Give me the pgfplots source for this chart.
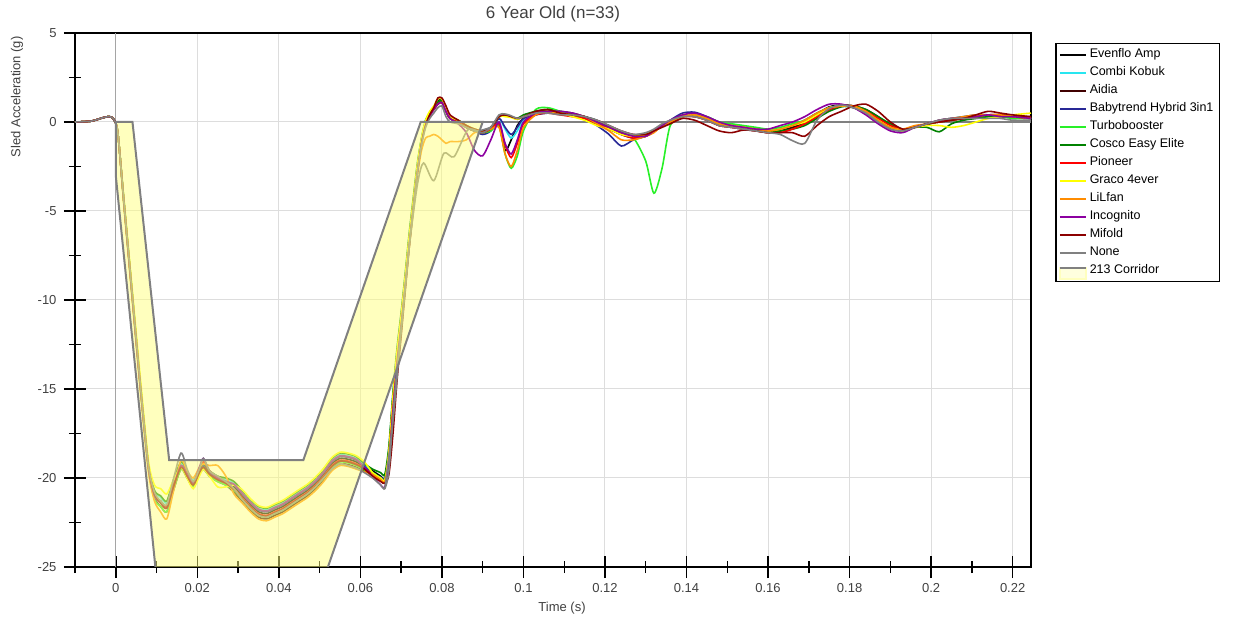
\documentclass[border=0pt]{standalone}
\usepackage{fontspec}
\setmainfont{Liberation Sans}
\usepackage{pgfplots}
\usepackage{pgfplotstable}
\pgfplotsset{compat=1.18}

\definecolor{cEv}{RGB}{0,0,0}
\definecolor{cCo}{RGB}{40,230,240}
\definecolor{cAi}{RGB}{64,0,0}
\definecolor{cBt}{RGB}{40,40,150}
\definecolor{cTu}{RGB}{40,240,40}
\definecolor{cCe}{RGB}{0,130,0}
\definecolor{cPi}{RGB}{255,0,0}
\definecolor{cGr}{RGB}{255,255,0}
\definecolor{cLi}{RGB}{255,140,0}
\definecolor{cIn}{RGB}{140,0,160}
\definecolor{cMi}{RGB}{140,0,0}
\definecolor{cNo}{RGB}{128,128,128}
\definecolor{corrfill}{RGB}{255,255,125}
\definecolor{corrgray}{RGB}{128,128,128}
\definecolor{gridgray}{RGB}{221,221,221}
\definecolor{labelgray}{RGB}{64,64,64}

% t, then one column per seat
\pgfplotstableread{
t ev co ai bt tu ce pi gr li inc mi no
-0.010 0 0 0 0 0 0 0 0 0 0 0 0
-0.006 0.05 0.05 0.05 0.05 0.05 0.05 0.05 0.05 0.05 0.05 0.05 0.05
-0.003 0.25 0.25 0.25 0.25 0.25 0.25 0.25 0.25 0.25 0.25 0.25 0.25
-0.0015 0.3 0.3 0.3 0.3 0.3 0.3 0.3 0.3 0.3 0.3 0.3 0.3
-0.0005 0.15 0.15 0.15 0.15 0.15 0.15 0.15 0.15 0.15 0.15 0.15 0.15
0.0005 -0.6 -0.6 -0.6 -0.6 -0.6 -0.6 -0.6 -0.6 -0.6 -0.6 -0.6 -0.6
0.002 -4.5 -4.4 -4.6 -4.5 -4.6 -4.4 -4.5 -4.3 -4.7 -4.5 -4.5 -4.5
0.004 -9.6 -9.5 -9.7 -9.6 -9.8 -9.5 -9.6 -9.3 -9.9 -9.7 -9.6 -9.6
0.006 -14.7 -14.6 -14.8 -14.7 -14.9 -14.6 -14.7 -14.3 -15.0 -14.8 -14.7 -14.7
0.008 -19.3 -19.2 -19.4 -19.3 -19.5 -19.2 -19.3 -19.0 -19.6 -19.4 -19.3 -19.3
0.0095 -20.9 -20.7 -21.1 -20.9 -21.2 -20.7 -20.9 -20.4 -21.3 -21.0 -20.9 -20.8
0.011 -21.3 -21.1 -21.6 -21.3 -21.6 -21.0 -21.3 -20.6 -21.9 -21.4 -21.4 -21.3
0.0125 -21.6 -21.4 -21.9 -21.6 -21.9 -21.3 -21.6 -20.9 -22.3 -21.7 -21.7 -21.5
0.014 -20.5 -20.3 -20.8 -20.5 -20.8 -20.2 -20.5 -20.2 -20.9 -20.6 -20.6 -20.2
0.016 -19.3 -19.2 -19.5 -19.3 -19.5 -19.1 -19.3 -19.4 -19.0 -19.3 -19.4 -18.6
0.0175 -19.8 -19.7 -20.0 -19.8 -20.0 -19.6 -19.8 -20.0 -19.6 -19.8 -19.9 -19.5
0.019 -20.3 -20.1 -20.5 -20.3 -20.5 -20.3 -20.3 -20.6 -20.0 -20.3 -20.4 -20.2
0.0205 -19.6 -19.5 -19.8 -19.6 -19.8 -19.5 -19.5 -19.9 -19.4 -19.4 -19.7 -19.5
0.0215 -19.3 -19.2 -19.5 -19.3 -19.5 -19.2 -19.1 -19.5 -19.2 -18.9 -19.4 -18.9
0.023 -19.7 -19.6 -19.9 -19.7 -19.9 -19.6 -19.6 -19.9 -19.3 -19.6 -19.8 -19.6
0.025 -20.0 -19.9 -20.2 -20.0 -20.2 -19.9 -20.0 -20.5 -19.3 -20.0 -20.1 -19.9
0.027 -20.2 -20.1 -20.4 -20.2 -20.4 -20.0 -20.2 -20.5 -19.9 -20.2 -20.3 -20.2
0.029 -20.5 -20.3 -20.8 -20.4 -20.7 -20.2 -20.6 -20.4 -20.9 -20.35 -20.65 -20.6
0.031 -21.0 -20.8 -21.3 -20.9 -21.2 -20.7 -21.1 -20.65 -21.4 -20.85 -21.15 -21.2
0.033 -21.5 -21.3 -21.8 -21.4 -21.7 -21.2 -21.6 -21.15 -21.9 -21.35 -21.65 -21.7
0.035 -21.9 -21.7 -22.2 -21.8 -22.1 -21.6 -22.0 -21.55 -22.3 -21.75 -22.05 -22.1
0.037 -22.0 -21.8 -22.3 -21.9 -22.2 -21.7 -22.1 -21.65 -22.4 -21.85 -22.15 -22.2
0.039 -21.8 -21.6 -22.1 -21.7 -22.0 -21.5 -21.9 -21.45 -22.2 -21.65 -21.95 -22.0
0.041 -21.6 -21.4 -21.9 -21.5 -21.8 -21.3 -21.7 -21.25 -22.0 -21.45 -21.75 -21.8
0.043 -21.3 -21.1 -21.6 -21.2 -21.5 -21.0 -21.4 -20.95 -21.7 -21.15 -21.45 -21.5
0.045 -21.0 -20.8 -21.3 -20.9 -21.2 -20.7 -21.1 -20.65 -21.4 -20.85 -21.15 -21.2
0.047 -20.7 -20.5 -21.0 -20.6 -20.9 -20.4 -20.8 -20.35 -21.1 -20.55 -20.85 -20.9
0.049 -20.3 -20.1 -20.6 -20.2 -20.5 -20.0 -20.4 -19.95 -20.7 -20.15 -20.45 -20.5
0.051 -19.8 -19.6 -20.1 -19.7 -20.0 -19.5 -19.9 -19.45 -20.2 -19.65 -19.95 -20.0
0.053 -19.2 -19.0 -19.5 -19.1 -19.4 -18.9 -19.3 -18.85 -19.6 -19.05 -19.35 -19.5
0.055 -18.9 -18.7 -19.2 -18.8 -19.1 -18.6 -19.0 -18.55 -19.3 -18.75 -19.05 -19.2
0.057 -18.95 -18.75 -19.25 -18.85 -19.15 -18.65 -19.05 -18.6 -19.35 -18.8 -19.1 -19.3
0.059 -19.1 -18.9 -19.4 -19.0 -19.3 -18.8 -19.2 -18.75 -19.5 -18.95 -19.25 -19.45
0.061 -19.4 -19.25 -19.6 -19.35 -19.55 -19.2 -19.45 -19.1 -19.65 -19.4 -19.5 -19.7
0.063 -19.6 -19.7 -19.8 -19.8 -19.7 -19.5 -19.8 -19.7 -19.8 -19.9 -19.9 -20.0
0.065 -19.9 -20.0 -20.1 -19.95 -20.0 -19.7 -20.1 -20.0 -20.1 -20.4 -20.2 -20.4
0.066 -20.0 -20.0 -20.2 -20.0 -20.1 -19.8 -20.2 -20.1 -20.2 -20.5 -20.3 -20.6
0.067 -18.5 -18.4 -18.8 -18.5 -18.6 -18.2 -18.7 -18.5 -18.8 -19.2 -19.8 -19.6
0.068 -15.5 -15.3 -15.8 -15.5 -15.6 -15.2 -15.7 -15.4 -15.9 -16.2 -17.5 -16.5
0.069 -13.0 -12.8 -13.3 -13.0 -13.1 -12.7 -13.2 -12.9 -13.4 -13.6 -14.5 -13.8
0.070 -11.0 -10.8 -11.2 -11.0 -11.1 -10.7 -11.1 -10.9 -11.4 -11.5 -12.0 -11.6
0.071 -8.8 -8.6 -9.0 -8.8 -8.9 -8.5 -8.9 -8.7 -9.3 -9.2 -9.5 -9.3
0.072 -6.5 -6.3 -6.7 -6.5 -6.6 -6.2 -6.6 -6.4 -7.0 -6.9 -7.0 -6.9
0.073 -4.5 -4.3 -4.7 -4.5 -4.6 -4.2 -4.6 -4.4 -5.0 -4.8 -4.8 -4.8
0.074 -2.5 -2.3 -2.7 -2.5 -2.6 -2.3 -2.6 -2.4 -3.0 -2.8 -2.8 -2.8
0.075 -1.0 -0.9 -1.1 -1.0 -1.1 -0.9 -1.1 -0.9 -1.6 -1.2 -1.2 -1.3
0.076 0.0 0.1 -0.1 0.0 0.0 0.1 -0.1 0.1 -0.9 -0.2 -0.2 -0.3
0.077 0.5 0.5 0.4 0.5 0.5 0.5 0.4 0.6 -0.8 0.3 0.4 0.2
0.078 0.8 0.8 0.7 0.8 0.8 0.8 0.7 0.9 -0.7 0.7 0.8 0.5
0.079 1.2 1.0 1.0 1.1 1.1 1.1 1.0 1.3 -0.8 1.0 1.35 0.8
0.080 1.2 1.1 1.1 1.2 1.2 1.2 1.1 1.3 -1.0 1.1 1.35 0.9
0.081 0.6 0.6 0.6 0.7 0.7 0.7 0.6 0.8 -1.2 0.6 0.9 0.3
0.082 0.2 0.2 0.2 0.3 0.3 0.3 0.2 0.3 -1.1 0.2 0.4 0.0
0.084 0.0 0.0 0.0 0.1 0.0 0.1 0.0 0.1 -1.1 -0.1 0.1 -0.1
0.086 -0.3 -0.3 -0.3 -0.2 -0.3 -0.2 -0.3 -0.2 -1.0 -0.6 -0.2 -0.3
0.088 -0.5 -0.5 -0.5 -0.5 -0.5 -0.4 -0.5 -0.4 -0.6 -1.6 -0.4 -0.5
0.090 -0.6 -0.6 -0.6 -0.7 -0.6 -0.5 -0.6 -0.5 -0.5 -1.9 -0.5 -0.6
0.092 -0.4 -0.3 -0.4 -0.5 -0.5 -0.3 -0.4 -0.3 -0.4 -1.0 -0.3 -0.3
0.094 -0.2 0.2 0.3 0.2 -0.2 0.3 -0.1 0.3 -0.3 0.0 0.3 0.4
0.0955 -1.6 -0.4 0.35 -0.3 -1.8 0.35 -1.3 0.3 -1.8 -1.2 0.4 0.45
0.097 -1.0 -0.9 0.3 -0.7 -2.6 0.3 -2.0 0.25 -2.5 -1.8 0.3 0.35
0.0985 -0.2 -0.5 0.15 -0.3 -1.9 0.2 -1.2 0.15 -1.6 -1.0 0.2 0.2
0.100 0.2 0.1 0.3 0.2 -0.5 0.4 -0.1 0.3 -0.3 0.0 0.3 0.3
0.103 0.5 0.5 0.5 0.4 0.7 0.6 0.4 0.5 0.4 0.5 0.6 0.5
0.106 0.6 0.6 0.7 0.5 0.8 0.7 0.5 0.6 0.6 0.6 0.7 0.5
0.109 0.5 0.5 0.6 0.5 0.6 0.5 0.4 0.5 0.5 0.6 0.5 0.4
0.112 0.4 0.4 0.5 0.4 0.4 0.4 0.3 0.3 0.4 0.5 0.4 0.4
0.115 0.3 0.3 0.3 0.2 0.3 0.3 0.2 0.1 0.3 0.3 0.3 0.3
0.118 0.0 0.1 0.0 -0.2 0.0 0.0 -0.1 -0.2 -0.1 0.0 0.1 0.1
0.121 -0.35 -0.3 -0.3 -0.7 -0.4 -0.3 -0.4 -0.4 -0.5 -0.3 -0.2 -0.2
0.124 -0.7 -0.6 -0.6 -1.35 -0.7 -0.6 -0.7 -0.7 -1.0 -0.6 -0.5 -0.5
0.127 -0.9 -0.8 -0.8 -1.0 -0.9 -0.8 -0.9 -0.8 -1.0 -0.8 -0.7 -0.7
0.130 -0.8 -0.8 -0.7 -0.8 -2.2 -0.7 -0.8 -0.7 -0.8 -0.8 -0.7 -0.6
0.132 -0.55 -0.5 -0.5 -0.5 -4.0 -0.5 -0.5 -0.5 -0.6 -0.5 -0.5 -0.4
0.134 -0.2 -0.2 -0.2 -0.2 -2.6 -0.2 -0.2 -0.2 -0.2 -0.2 -0.3 -0.1
0.136 0.0 0.0 0.0 0.1 -0.2 0.0 0.0 0.0 0.0 0.1 -0.1 0.1
0.139 0.35 0.3 0.3 0.5 0.3 0.3 0.3 0.4 0.3 0.4 0.2 0.3
0.142 0.4 0.35 0.3 0.55 0.4 0.35 0.3 0.4 0.4 0.5 0.1 0.3
0.145 0.2 0.2 0.1 0.3 0.3 0.2 0.1 0.2 0.2 0.3 -0.2 0.1
0.148 -0.1 -0.1 -0.2 0.0 0.0 -0.1 -0.2 -0.1 -0.1 0.0 -0.5 -0.2
0.151 -0.25 -0.2 -0.3 -0.2 -0.1 -0.2 -0.3 -0.2 -0.2 -0.2 -0.6 -0.3
0.154 -0.35 -0.3 -0.4 -0.3 -0.2 -0.3 -0.4 -0.3 -0.3 -0.3 -0.45 -0.4
0.157 -0.45 -0.4 -0.5 -0.4 -0.3 -0.4 -0.5 -0.4 -0.4 -0.4 -0.5 -0.5
0.160 -0.55 -0.5 -0.6 -0.5 -0.4 -0.5 -0.6 -0.5 -0.5 -0.4 -0.6 -0.6
0.163 -0.5 -0.4 -0.5 -0.4 -0.3 -0.5 -0.6 -0.4 -0.4 -0.2 -0.6 -0.7
0.166 -0.3 -0.2 -0.3 -0.2 -0.1 -0.4 -0.4 -0.2 -0.2 0.0 -0.6 -1.05
0.169 0.0 0.1 -0.1 0.1 0.1 -0.2 -0.1 0.0 0.1 0.3 -0.8 -1.2
0.172 0.45 0.5 0.3 0.5 0.5 0.2 0.3 0.4 0.5 0.7 -0.2 0.1
0.175 0.85 0.8 0.7 0.8 0.8 0.6 0.7 0.8 0.8 1.0 0.3 0.75
0.178 0.95 0.9 0.9 0.9 0.9 0.85 0.9 0.9 0.9 1.0 0.6 0.95
0.181 0.9 0.85 0.9 0.8 0.8 0.9 0.85 0.85 0.9 0.8 0.9 0.8
0.184 0.6 0.5 0.7 0.5 0.5 0.7 0.6 0.5 0.6 0.4 1.0 0.5
0.187 0.1 0.1 0.3 0.0 0.0 0.3 0.2 0.1 0.1 -0.1 0.6 0.0
0.190 -0.35 -0.3 -0.2 -0.4 -0.3 -0.1 -0.2 -0.3 -0.3 -0.5 0.0 -0.4
0.193 -0.5 -0.5 -0.4 -0.5 -0.5 -0.4 -0.4 -0.5 -0.4 -0.6 -0.4 -0.5
0.196 -0.25 -0.3 -0.3 -0.3 -0.3 -0.3 -0.3 -0.3 -0.2 -0.3 -0.3 -0.3
0.199 -0.15 -0.1 -0.1 -0.1 -0.1 -0.3 -0.1 -0.2 -0.1 -0.1 -0.1 -0.1
0.202 0.05 0.1 0.0 0.1 0.0 -0.55 0.0 -0.2 0.1 0.1 0.0 0.1
0.205 0.15 0.2 0.1 0.2 0.1 -0.1 0.1 -0.3 0.2 0.2 0.1 0.2
0.208 0.2 0.3 0.2 0.3 0.2 0.1 0.2 -0.2 0.3 0.2 0.2 0.2
0.211 0.3 0.3 0.3 0.4 0.3 0.2 0.3 0.0 0.4 0.3 0.4 0.2
0.214 0.35 0.3 0.4 0.4 0.3 0.3 0.4 0.2 0.4 0.4 0.6 0.2
0.217 0.4 0.3 0.4 0.3 0.3 0.3 0.4 0.3 0.4 0.3 0.5 0.2
0.220 0.3 0.3 0.3 0.3 0.2 0.3 0.3 0.4 0.3 0.3 0.4 0.1
0.2245 0.2 0.2 0.3 0.2 0.2 0.2 0.2 0.5 0.2 0.2 0.3 0.1
}\sled

\begin{document}
\begin{tikzpicture}
\path[use as bounding box] (-75bp,-50bp) rectangle (1169bp,567bp);
\begin{axis}[
  scale only axis, width=956bp, height=534bp,
  xmin=-0.01, xmax=0.2245, ymin=-25, ymax=5,
  xtick={0,0.02,0.04,0.06,0.08,0.1,0.12,0.14,0.16,0.18,0.2,0.22},
  xticklabels={0,0.02,0.04,0.06,0.08,0.1,0.12,0.14,0.16,0.18,0.2,0.22},
  minor xtick={-0.01,0.01,0.03,0.05,0.07,0.09,0.11,0.13,0.15,0.17,0.19,0.21},
  ytick={-25,-20,-15,-10,-5,0,5},
  yticklabels={-25,-20,-15,-10,-5,0,5},
  minor ytick={-22.5,-17.5,-12.5,-7.5,-2.5,2.5},
  xtick pos=bottom, ytick pos=left,
  grid=major, major grid style={gridgray, line width=1bp},
  tick align=center, major tick length=22bp, minor tick length=12bp,
  every tick/.style={black, line width=1.6bp},
  every minor tick/.style={black, line width=1.4bp},
  axis line style={black, line width=2bp},
  tick label style={font=\fontsize{13bp}{15bp}\selectfont, text=labelgray},
  xticklabel style={yshift=-2bp},
  yticklabel style={xshift=-4bp},
  title={6 Year Old (n=33)},
  title style={font=\fontsize{17bp}{19bp}\selectfont, text=labelgray, yshift=1bp},
  every axis plot/.append style={line width=1.6bp, smooth, tension=0.45},
  legend style={at={(1.0251,0.9813)}, anchor=north west, draw=black,
    line width=1.5bp, inner xsep=3bp, inner ysep=2bp, row sep=0bp,
    font=\fontsize{12.5bp}{14bp}\selectfont, text=black,
    nodes={inner sep=3bp, text height=9bp, text depth=3bp},
    column 2/.style={nodes={text width=144bp, align=left}}},
  legend cell align=left,
  legend image code/.code={\draw[#1, line width=2bp, sharp plot] (0bp,0bp) -- (26bp,0bp);},
]
\addplot[forget plot, gridgray!40!corrgray, line width=1bp, sharp plot] coordinates {(0,-25) (0,5)};
\addplot[forget plot, corrgray, line width=1.5bp, sharp plot] coordinates {(0.09,0) (0.2245,0)};

\addplot[cEv] table[x=t, y=ev] {\sled}; \addlegendentry{Evenflo Amp}
\addplot[cCo] table[x=t, y=co] {\sled}; \addlegendentry{Combi Kobuk}
\addplot[cAi] table[x=t, y=ai] {\sled}; \addlegendentry{Aidia}
\addplot[cBt] table[x=t, y=bt] {\sled}; \addlegendentry{Babytrend Hybrid 3in1}
\addplot[cTu] table[x=t, y=tu] {\sled}; \addlegendentry{Turbobooster}
\addplot[cCe] table[x=t, y=ce] {\sled}; \addlegendentry{Cosco Easy Elite}
\addplot[cPi] table[x=t, y=pi] {\sled}; \addlegendentry{Pioneer}
\addplot[cGr] table[x=t, y=gr] {\sled}; \addlegendentry{Graco 4ever}
\addplot[cLi] table[x=t, y=li] {\sled}; \addlegendentry{LiLfan}
\addplot[cIn] table[x=t, y=inc] {\sled}; \addlegendentry{Incognito}
\addplot[cMi] table[x=t, y=mi] {\sled}; \addlegendentry{Mifold}
\addplot[forget plot, cNo] coordinates {(0.066,-20.6) (0.068,-16.8) (0.070,-11.8) (0.072,-7.0) (0.074,-3.5) (0.0755,-2.3) (0.078,-3.3) (0.0805,-1.75) (0.083,-1.95) (0.0863,-0.45) (0.089,-0.5) (0.092,-0.3)};
\addplot[cNo] table[x=t, y=no] {\sled}; \addlegendentry{None}

\addplot[sharp plot, draw=corrgray, line width=2bp, fill=corrfill, fill opacity=0.5,
  legend image code/.code={
    \fill[corrfill!50!white] (0bp,-8bp) rectangle (26bp,3bp);
    \draw[corrgray, line width=2bp] (0bp,3bp) -- (26bp,3bp);}]
  coordinates {(0,0) (0.0041,0) (0.0131,-19) (0.046,-19) (0.0748,0) (0.090,0)
               (0.049,-27) (0.0106,-27) (0,-3)} -- cycle;
\addlegendentry{213 Corridor}
\end{axis}
\node[rotate=90, anchor=east, font=\fontsize{13bp}{15bp}\selectfont, text=labelgray]
  at (-58bp,534bp) {Sled Acceleration (g)};
\node[font=\fontsize{13bp}{15bp}\selectfont, text=labelgray] at (487bp,-41bp) {Time (s)};
\end{tikzpicture}
\end{document}
